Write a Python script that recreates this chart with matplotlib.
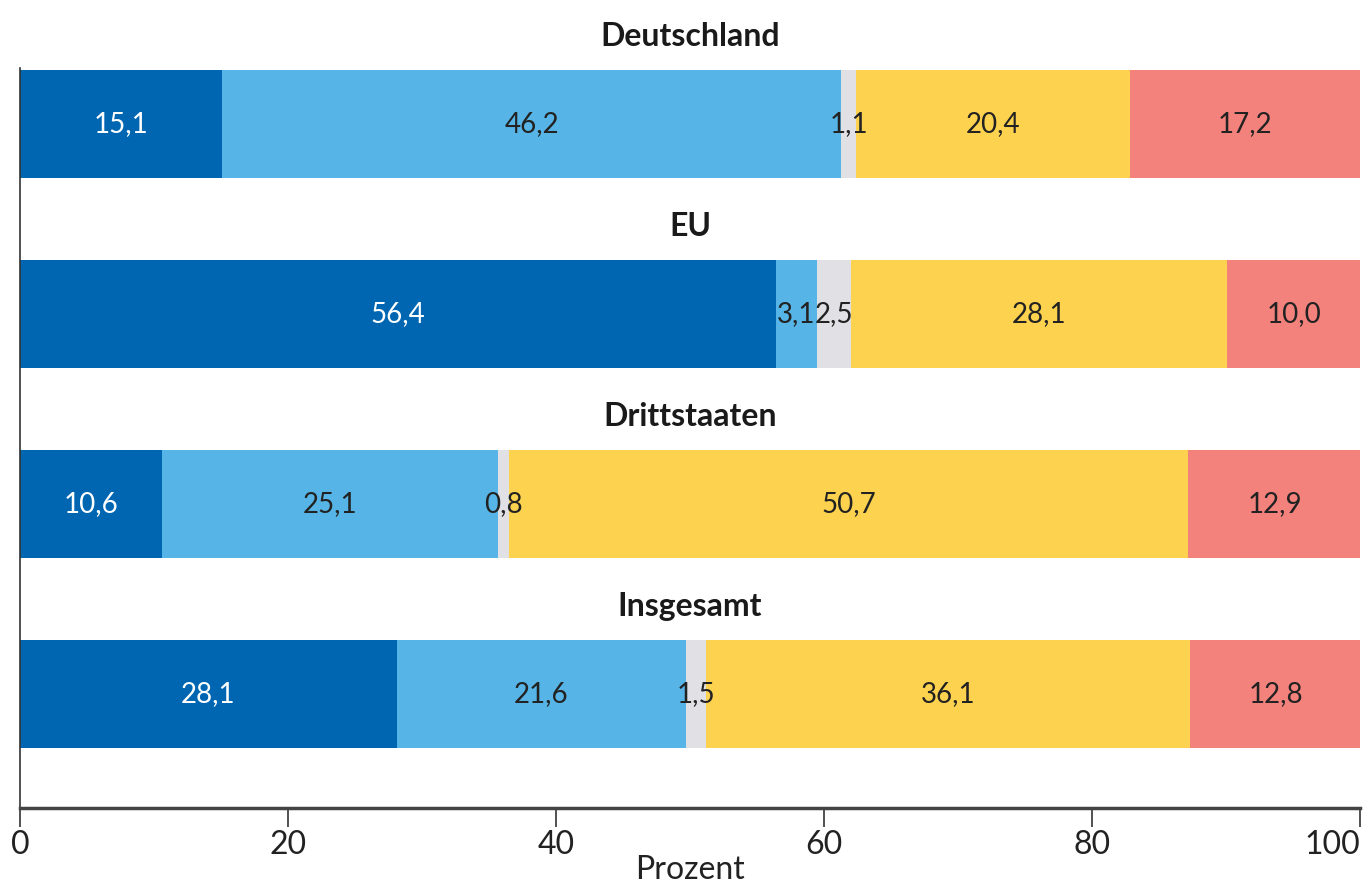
import matplotlib
matplotlib.use("Agg")
import matplotlib.pyplot as plt
import numpy as np

groups = ["Deutschland", "EU", "Drittstaaten", "Insgesamt"]
seg1 = [15.1, 56.4, 10.6, 28.1]
seg2 = [46.2, 3.1, 25.1, 21.6]
seg3 = [1.1, 2.5, 0.8, 1.5]
seg4 = [20.4, 28.1, 50.7, 36.1]
seg5 = [17.2, 10.0, 12.9, 12.8]
series = [seg1, seg2, seg3, seg4, seg5]
colors = ["#0066B2", "#56B4E6", "#E1E1E5", "#FDD24F", "#F4827C"]
text_colors = ["white", "#222222", "#222222", "#222222", "#222222"]
xticks = [0, 20, 40, 60, 80, 100]

plt.rcParams['font.family'] = ['Lato', 'DejaVu Sans']

fig = plt.figure(figsize=(13.7, 8.88), dpi=100)
ax = fig.add_axes([20/1370, 1-808/888, 1340/1370, (808-68)/888])

ypos = np.arange(len(groups))
bh = 0.57
left = np.zeros(len(groups))
for vals, c, tc in zip(series, colors, text_colors):
    vals = np.array(vals)
    ax.barh(ypos, vals, left=left, height=bh, color=c, edgecolor='none')
    for y, l, v in zip(ypos, left, vals):
        ax.text(l + v/2, y, f"{v:.1f}".replace('.', ','), ha='center', va='center',
                fontsize=20, color=tc)
    left = left + vals

for y, g in zip(ypos, groups):
    ax.text(50, y - bh/2 - 0.1, g, ha='center', va='bottom', fontsize=23,
            fontweight='bold', color='#1a1a1a')

ax.set_xlim(0, 100)
ax.set_ylim(3.6, -bh/2 - 0.01)
ax.set_yticks([])
ax.set_xticks(xticks)
ax.set_xticklabels([str(t) for t in xticks], fontsize=23, color='#222222')
labels = ax.get_xticklabels()
labels[-1].set_horizontalalignment('right')
labels[-1].set_x(100)
ax.tick_params(axis='x', length=14, width=1.2, color='#333333', pad=2)
ax.spines['top'].set_visible(False)
ax.spines['right'].set_visible(False)
ax.spines['bottom'].set_linewidth(2.5)
ax.spines['bottom'].set_color('#444444')
ax.spines['left'].set_linewidth(1.2)
ax.spines['left'].set_color('#333333')
ax.set_xlabel("Prozent", fontsize=23, color='#222222', va='center')
ax.xaxis.set_label_coords(0.5, (808 - 870) / 740)

fig.savefig("out.png", dpi=100)
